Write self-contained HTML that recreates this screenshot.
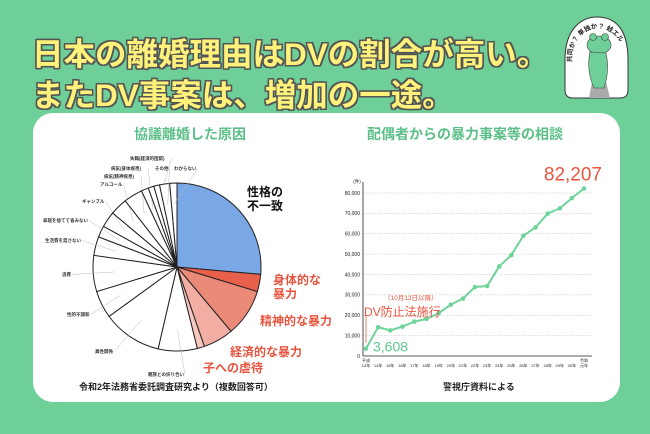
<!DOCTYPE html>
<html><head><meta charset="utf-8">
<style>
html,body{margin:0;padding:0}
body{width:650px;height:434px;background:#6fcf98;position:relative;overflow:hidden;font-family:"Liberation Sans","Noto Sans CJK JP",sans-serif}
.title{position:absolute;left:32px;font-size:31.5px;font-weight:bold;color:#fff27a;letter-spacing:0px;white-space:nowrap;
 text-shadow:-1.5px -1.5px 0 #555,1.5px -1.5px 0 #555,-1.5px 1.5px 0 #555,1.5px 1.5px 0 #555,0 1.5px 0 #555,0 -1.5px 0 #555,1.5px 0 0 #555,-1.5px 0 0 #555}
.panel{position:absolute;left:33px;top:113px;width:587px;height:289px;background:#fff;border-radius:20px}
.h{position:absolute;top:124px;font-size:14px;font-weight:bold;color:#5cbf88;white-space:nowrap}
.cap{position:absolute;top:380px;font-size:9px;font-weight:bold;color:#222;white-space:nowrap}
svg{position:absolute;left:0;top:0}
</style></head><body>
<div class="title" style="top:29px">日本の離婚理由はDVの割合が高い。</div>
<div class="title" style="top:70px">またDV事案は、増加の一途。</div>

<svg width="650" height="434">
 <defs><path id="arc" d="M572,62 A26,30 0 0 1 624,55"/></defs>
 <path d="M565,60 C565,25 585,17 597,17 C612,17 628,25 628,60 L628,90 Q628,98 620,98 L573,98 Q565,98 565,90 Z" fill="#fff" stroke="#333" stroke-width="1"/>
 <path d="M589,98 L592,82 L606,82 L610,98 Z" fill="#aaa"/>
 <ellipse cx="599" cy="45" rx="12" ry="9" fill="#6fcf98" stroke="#444" stroke-width="0.6"/>
 <circle cx="593" cy="37" r="3.5" fill="#6fcf98" stroke="#444" stroke-width="0.6"/>
 <circle cx="605" cy="37" r="3.5" fill="#6fcf98" stroke="#444" stroke-width="0.6"/>
 <path d="M590,52 Q586,70 594,88 L604,88 Q610,70 606,53 Z" fill="#6fcf98" stroke="#444" stroke-width="0.6"/>
 <text font-size="6.5" font-weight="bold" fill="#222"><textPath href="#arc">共同か？ 単独か？ 蛙エル</textPath></text>
</svg>

<div class="panel"></div>
<div class="h" style="left:134px">協議離婚した原因</div>
<div class="h" style="left:367px">配偶者からの暴力事案等の相談</div>
<div class="cap" style="left:79px">令和2年法務省委託調査研究より（複数回答可）</div>
<div class="cap" style="left:443px">警視庁資料による</div>

<svg id="pie" width="650" height="434"></svg>
<svg id="line" width="650" height="434"></svg>

<script>
const NS="http://www.w3.org/2000/svg";
function mk(parent,tag,attrs,text){const e=document.createElementNS(NS,tag);for(const k in attrs)e.setAttribute(k,attrs[k]);if(text!==undefined)e.textContent=text;parent.appendChild(e);return e;}

// ---- Pie data ----
const pieValues=[95,12,33,21,5,27,41,19,25,13,8,11,12,13,5,4,4,7,5];
const pieCats=["性格の不一致","身体的な暴力","精神的な暴力","経済的な暴力","子への虐待","親族との折り合い","異性関係","性的不調和","浪費","生活費を渡さない","家庭を捨てて省みない","ギャンブル","アルコール","病気(精神疾患)","病気(身体疾患)","失職(経済的困窮)","","その他","わからない"];
const pieColors=["#7aa8e6","#e8604c","#ec8a7a","#f2aea3","#f6c8bf"];
const pie=document.getElementById('pie');
const cx=177,cy=267,R=84;
const total=pieValues.reduce((a,b)=>a+b,0);
function pt(deg,r){const a=(deg-90)*Math.PI/180;return [cx+r*Math.cos(a),cy+r*Math.sin(a)];}
const smallLabelPos={"親族との折り合い":[148,376],"異性関係":[95,353],"性的不調和":[67,316],"浪費":[62,276],"生活費を渡さない":[45,242],"家庭を捨てて省みない":[43,222],"ギャンブル":[82,203],"アルコール":[100,186],"病気(精神疾患)":[104,178],"病気(身体疾患)":[111,170],"失職(経済的困窮)":[130,160],"その他":[155,170],"わからない":[174,170]};
let acc=0;
pieValues.forEach((v,i)=>{
 const a0=acc/total*360,a1=(acc+v)/total*360;acc+=v;
 const p0=pt(a0,R),p1=pt(a1,R);
 const large=(a1-a0)>180?1:0;
 const s=mk(pie,'path',{d:`M${cx},${cy} L${p0[0]},${p0[1]} A${R},${R} 0 ${large} 1 ${p1[0]},${p1[1]} Z`,fill:pieColors[i]||"#fff",stroke:"#222","stroke-width":"1"});
 
 
 const name=pieCats[i];
 if(smallLabelPos[name]){
  const lp=smallLabelPos[name];const mid=pt((a0+a1)/2,R*0.75);
  const t=mk(pie,'text',{x:lp[0],y:lp[1],"font-size":"4.5","font-weight":"bold",fill:"#333"},name);
  
  
  const w=name.length*4.5;
  mk(pie,'line',{x1:lp[0]+w+1,y1:lp[1]-1.5,x2:mid[0],y2:mid[1],stroke:"#bbb","stroke-width":"0.5"});
 }
});
const bigLabels=[["性格の",247,196,"#111"],["不一致",247,210,"#111"],["身体的な",273,284,"#e8553f"],["暴力",273,298,"#e8553f"],["精神的な暴力",260,325,"#e8553f"],["経済的な暴力",230,356,"#e8553f"],["子への虐待",203,372,"#e8553f"]];
bigLabels.forEach(b=>{const t=mk(pie,'text',{x:b[1],y:b[2],"font-size":"12","font-weight":"bold",fill:b[3]},b[0]);
 
 });

// ---- Line data ----
const yearLabels1=["平成","","","","","","","","","","","","","","","","","","令和"];
const yearLabels2=["13年","14年","15年","16年","17年","18年","19年","20年","21年","22年","23年","24年","25年","26年","27年","28年","29年","30年","元年"];
const consultValues=[3608,14140,12568,14410,16888,18236,20992,25210,28158,33852,34329,43950,49533,59072,63141,69908,72455,77482,82207];
const yTicks=[0,10000,20000,30000,40000,50000,60000,70000,80000];
const yTickLabels=["0","10,000","20,000","30,000","40,000","50,000","60,000","70,000","80,000"];
const ln=document.getElementById('line');
const x0=366,x1=584,y0=356,yTop=193,yMax=80000;
const X=i=>x0+i*(x1-x0)/(consultValues.length-1);
const Y=v=>y0-(v/yMax)*(y0-yTop);
yTicks.forEach((v,i)=>{
 if(v>0){const g=mk(ln,'line',{x1:363,x2:592,y1:Y(v),y2:Y(v),stroke:"#bbb","stroke-width":"0.6","stroke-dasharray":"1.5,1.5"});
 
 }
 const t=mk(ln,'text',{x:360,y:Y(v)+1.8,"font-size":"5","text-anchor":"end",fill:"#222"},yTickLabels[i]);
 
 
});
mk(ln,'text',{x:357,y:183,"font-size":"4.5",fill:"#222","text-anchor":"middle"},"(件)");
mk(ln,'line',{x1:363,x2:363,y1:182,y2:y0,stroke:"#222","stroke-width":"0.8"});
mk(ln,'line',{x1:363,x2:592,y1:y0,y2:y0,stroke:"#222","stroke-width":"0.8"});
yearLabels2.forEach((l,i)=>{
 if(yearLabels1[i]) mk(ln,'text',{x:X(i),y:362,"font-size":"4","text-anchor":"middle",fill:"#222"},yearLabels1[i]);
 const t=mk(ln,'text',{x:X(i),y:367,"font-size":"4","text-anchor":"middle",fill:"#222"},l);
 
 
});
mk(ln,'line',{x1:X(0),x2:X(0),y1:315,y2:343,stroke:"#ea7f74","stroke-width":"1"});
const path=mk(ln,'polyline',{points:consultValues.map((v,i)=>X(i)+","+Y(v)).join(" "),fill:"none",stroke:"#6fd49a","stroke-width":"2","stroke-linejoin":"round"});


consultValues.forEach((v,i)=>{const c=mk(ln,'circle',{cx:X(i),cy:Y(v),r:"2.3",fill:"#6fd49a"});
 
 });
const last=consultValues.length-1;
mk(ln,'text',{x:X(last)+18,y:Y(consultValues[last])-8,"font-size":"19","text-anchor":"end",fill:"#e8553f"},consultValues[last].toLocaleString('en-US'));
mk(ln,'text',{x:X(0)+7,y:Y(consultValues[0])+3,"font-size":"14",fill:"#5cc88a"},consultValues[0].toLocaleString('en-US'));
mk(ln,'text',{x:364,y:316,"font-size":"12",fill:"#e8553f"},"DV防止法施行");
mk(ln,'text',{x:384,y:300,"font-size":"6.5",fill:"#e8553f"},"（10月13日以降）");
</script>
</body></html>
